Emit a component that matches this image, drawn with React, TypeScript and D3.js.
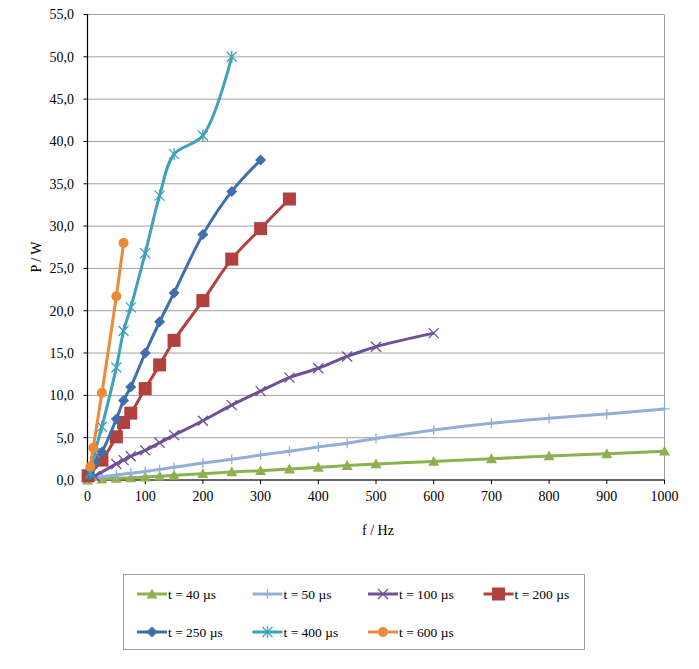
import React from "react";
import * as d3 from "d3";

const yTicks = [0, 5, 10, 15, 20, 25, 30, 35, 40, 45, 50, 55];
const xTicks = [0, 100, 200, 300, 400, 500, 600, 700, 800, 900, 1000];

const f40 = [0, 25, 50, 75, 100, 125, 150, 200, 250, 300, 350, 400, 450, 500, 600, 700, 800, 900, 1000];
const p40 = [0, 0.1, 0.2, 0.25, 0.35, 0.45, 0.55, 0.75, 0.95, 1.1, 1.3, 1.5, 1.7, 1.9, 2.2, 2.5, 2.85, 3.1, 3.4];

const f50 = [0, 25, 50, 75, 100, 125, 150, 200, 250, 300, 350, 400, 450, 500, 600, 700, 800, 900, 1000];
const p50 = [0.1, 0.35, 0.6, 0.8, 1.0, 1.25, 1.5, 2.0, 2.45, 2.95, 3.4, 3.9, 4.35, 4.9, 5.9, 6.7, 7.3, 7.8, 8.4];

const f100 = [12.5, 50, 62.5, 75, 100, 125, 150, 200, 250, 300, 350, 400, 450, 500, 600];
const p100 = [0.45, 1.9, 2.35, 2.8, 3.5, 4.4, 5.3, 7.0, 8.85, 10.5, 12.1, 13.2, 14.6, 15.75, 17.35];

const f200 = [1, 25, 50, 62.5, 75, 100, 125, 150, 200, 250, 300, 350];
const p200 = [0.5, 2.35, 5.1, 6.8, 7.9, 10.8, 13.6, 16.5, 21.2, 26.1, 29.7, 33.2];

const f250 = [5, 12.5, 25, 50, 62.5, 75, 100, 125, 150, 200, 250, 300];
const p250 = [0.6, 2.0, 3.3, 7.2, 9.4, 11.0, 15.0, 18.7, 22.1, 29.0, 34.1, 37.8];

const f400 = [5, 12.5, 25, 50, 62.5, 75, 100, 125, 150, 200, 250];
const p400 = [0.8, 3.2, 6.3, 13.3, 17.6, 20.4, 26.8, 33.6, 38.5, 40.7, 50.0];

const f600 = [5, 10, 25, 50, 62.5];
const p600 = [1.6, 3.8, 10.3, 21.7, 28.0];

const seriesNames = ["t = 40 µs", "t = 50 µs", "t = 100 µs", "t = 200 µs", "t = 250 µs", "t = 400 µs", "t = 600 µs"];
const seriesColors = ["#8FB04F", "#93AED8", "#6E5097", "#B0413E", "#3F6FAD", "#3EA2BB", "#EB8A3A"];
const seriesMarkers = ["triangle", "plus", "x", "square", "diamond", "asterisk", "circle"];
const seriesF = [f40, f50, f100, f200, f250, f400, f600];
const seriesP = [p40, p50, p100, p200, p250, p400, p600];

const W = 699, H = 669;
const left = 87.5, right = 664.5, top = 14.5, bottom = 480;
const FONT = "'Liberation Serif', 'Times New Roman', serif";

function Marker({ type, x, y, color }: { type: string; x: number; y: number; color: string }) {
  switch (type) {
    case "triangle": {
      const s = 5.5;
      return <path d={`M${x},${y - s} L${x + s},${y + s * 0.8} L${x - s},${y + s * 0.8} Z`} fill={color} />;
    }
    case "plus": {
      const s = 5;
      return <path d={`M${x - s},${y} H${x + s} M${x},${y - s} V${y + s}`} stroke={color} strokeWidth={1.3} fill="none" />;
    }
    case "x": {
      const s = 5;
      return <path d={`M${x - s},${y - s} L${x + s},${y + s} M${x - s},${y + s} L${x + s},${y - s}`} stroke={color} strokeWidth={1.3} fill="none" />;
    }
    case "square": {
      const s = 6.5;
      return <rect x={x - s} y={y - s} width={2 * s} height={2 * s} fill={color} />;
    }
    case "diamond": {
      const s = 5.5;
      return <path d={`M${x},${y - s} L${x + s},${y} L${x},${y + s} L${x - s},${y} Z`} fill={color} />;
    }
    case "asterisk": {
      const s = 5;
      return <path d={`M${x - s},${y - s} L${x + s},${y + s} M${x - s},${y + s} L${x + s},${y - s} M${x},${y - s - 1} V${y + s + 1}`} stroke={color} strokeWidth={1.3} fill="none" />;
    }
    case "circle":
      return <circle cx={x} cy={y} r={5} fill={color} />;
  }
  return null;
}

export default function App() {
  const x = d3.scaleLinear().domain([0, 1000]).range([left, right]);
  const y = d3.scaleLinear().domain([0, 55]).range([bottom, top]);
  const line = d3
    .line<[number, number]>()
    .x((d) => x(d[0]))
    .y((d) => y(d[1]))
    .curve(d3.curveCatmullRom.alpha(0.5));

  const legendCols = [137, 252.5, 368, 483.5];
  const legendRows = [594, 632];

  return (
    <svg width={W} height={H} style={{ position: "absolute", left: 0, top: 0, background: "#fff" }} fontFamily={FONT}>
      {yTicks.map((t) => (
        <line key={"g" + t} x1={left} x2={right} y1={y(t)} y2={y(t)} stroke="#a0a0a0" strokeWidth={1} />
      ))}
      <line x1={right} x2={right} y1={top} y2={bottom} stroke="#a0a0a0" strokeWidth={1} />
      <line x1={left} x2={left} y1={top} y2={bottom} stroke="#000" strokeWidth={1.2} />
      <line x1={left} x2={right} y1={bottom} y2={bottom} stroke="#000" strokeWidth={1.2} />
      {yTicks.map((t) => (
        <g key={"yt" + t}>
          <line x1={left - 4} x2={left} y1={y(t)} y2={y(t)} stroke="#000" />
          <text x={74} y={y(t)} dy="0.35em" textAnchor="end" fontSize={14} fill="#000">
            {d3.format(".1f")(t).replace(".", ",")}
          </text>
        </g>
      ))}
      {xTicks.map((t) => (
        <g key={"xt" + t}>
          <line x1={x(t)} x2={x(t)} y1={bottom} y2={bottom + 4} stroke="#000" />
          <text x={x(t)} y={501} textAnchor="middle" fontSize={14} fill="#000">
            {t}
          </text>
        </g>
      ))}
      <text x={378} y={535} textAnchor="middle" fontSize={14} fill="#000">f / Hz</text>
      <text transform={`translate(41,257) rotate(-90)`} textAnchor="middle" fontSize={14} fill="#000">P / W</text>

      {seriesNames.map((name, i) => {
        const pts: [number, number][] = seriesF[i].map((f, j) => [f, seriesP[i][j]]);
        return (
          <g key={name}>
            <path d={line(pts) || ""} fill="none" stroke={seriesColors[i]} strokeWidth={3} strokeLinejoin="round" />
            {pts.map((p, j) => (
              <Marker key={j} type={seriesMarkers[i]} x={x(p[0])} y={y(p[1])} color={seriesColors[i]} />
            ))}
          </g>
        );
      })}

      <rect x={123.5} y={574.5} width={461} height={75} fill="#fff" stroke="#a0a0a0" strokeWidth={1} />
      {seriesNames.map((name, i) => {
        const cx = legendCols[i % 4];
        const cy = legendRows[Math.floor(i / 4)];
        return (
          <g key={"lg" + name}>
            <line x1={cx} x2={cx + 30} y1={cy} y2={cy} stroke={seriesColors[i]} strokeWidth={3} />
            <Marker type={seriesMarkers[i]} x={cx + 15} y={cy} color={seriesColors[i]} />
            <text x={cx + 31} y={cy} dy="0.35em" fontSize={13.5} fill="#000">{name}</text>
          </g>
        );
      })}
    </svg>
  );
}
